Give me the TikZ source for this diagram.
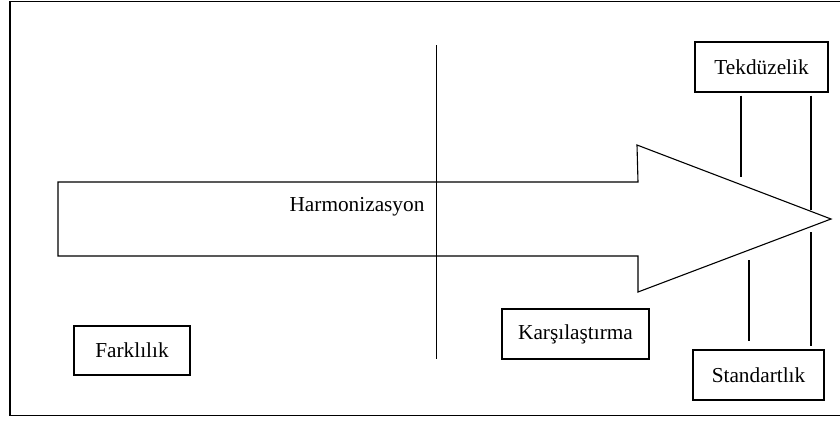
\documentclass[tikz,border=0pt]{standalone}
\usepackage{fontspec}
\setmainfont{Liberation Serif}
\begin{document}
\begin{tikzpicture}[x=1pt,y=-1pt,
  line width=1.1pt,
  labelbox/.style={draw, line width=1.1pt, inner sep=0pt, align=center,
    font=\fontsize{21.3}{25}\selectfont},
  plain/.style={font=\fontsize{21.3}{25}\selectfont, inner sep=0pt},
  link/.style={line width=1.1pt}]
\useasboundingbox (0,0) rectangle (840,421);
% outer frame
\draw[line width=1.5pt] (10,1.5) rectangle (843,415.5);
% the wide arrow
\coordinate (tailtop) at (58,182);
\coordinate (tailbot) at (58,256);
\coordinate (neckt) at (638,182);
\coordinate (neckb) at (638,256);
\coordinate (headt) at (637,145);
\coordinate (headb) at (638,292);
\coordinate (tip) at (831,219);
\draw[line join=miter] (tailtop) -- (neckt) -- (headt) -- (tip) -- (headb) -- (neckb) -- (tailbot) -- cycle;
\node[plain] (harm) at (357,207) {Harmonizasyon};
% vertical divider
\coordinate (divtop) at (436.5,45);
\coordinate (divbot) at (436.5,359);
\draw[link] (divtop) -- (divbot);
% labelled boxes
\node[labelbox, minimum width=116pt, minimum height=49pt] (fark) at (132,350.5) {Farklılık};
\node[labelbox, minimum width=147pt, minimum height=50pt] (kars) at (575.5,334) {Karşılaştırma};
\node[labelbox, minimum width=133pt, minimum height=50pt] (tek) at (761.5,67) {Tekdüzelik};
\node[labelbox, minimum width=131pt, minimum height=50pt] (std) at (758.5,375) {Standartlık};
% connectors between the boxes and the arrow head
\coordinate (ta) at (741,177);
\coordinate (tb) at (811,210);
\coordinate (sa) at (749,260);
\coordinate (sb) at (811,232);
\draw[link] ([yshift=-3pt]tek.south -| ta) -- (ta);
\draw[link] ([yshift=-3pt]tek.south -| tb) -- (tb);
\draw[link] (sa) -- ([yshift=8pt]std.north -| sa);
\draw[link] (sb) -- ([yshift=3pt]std.north -| sb);
\end{tikzpicture}
\end{document}
